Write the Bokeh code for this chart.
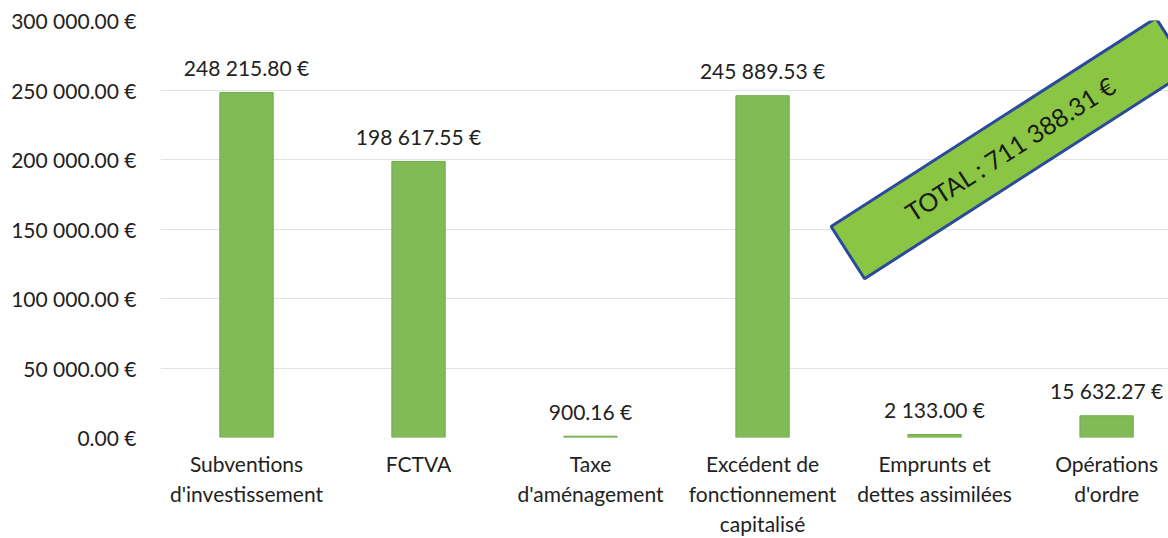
import math
from bokeh.plotting import figure
from bokeh.models import Range1d, FixedTicker, ColumnDataSource
from bokeh.core.properties import value
from bokeh.embed import file_html
from bokeh.resources import INLINE

categories = [
    "Subventions\nd'investissement",
    "FCTVA",
    "Taxe\nd'aménagement",
    "Excédent de\nfonctionnement\ncapitalisé",
    "Emprunts et\ndettes assimilées",
    "Opérations\nd'ordre",
]
amounts = [248215.80, 198617.55, 900.16, 245889.53, 2133.00, 15632.27]
y_ticks = [0, 50000, 100000, 150000, 200000, 250000, 300000]


def euro(v):
    return f"{v:,.2f}".replace(",", " ") + " €"


FONT = "Lato"
FS = "21px"
positions = [i + 0.5 for i in range(len(categories))]
labels = [euro(v) for v in amounts]
total = sum(amounts)

src = ColumnDataSource(dict(x=positions, top=amounts, label=labels))

p = figure(
    width=1168, height=538,
    x_range=Range1d(0, 5.86), y_range=Range1d(0, 300000),
    output_backend="svg", toolbar_location=None,
    min_border_left=160, min_border_right=0, min_border_top=20, min_border_bottom=101,
)
p.outline_line_color = None
p.background_fill_color = "white"
p.border_fill_color = "white"

p.vbar(x="x", top="top", width=0.31, bottom=0, source=src,
       fill_color="#80bb58", line_color="#72ab48", line_width=1)

p.text(x="x", y="top", text="label", source=src, y_offset=-25,
       text_align="center", text_baseline="middle",
       text_font=value(FONT), text_font_size=FS, text_color="#222222")

# axes
p.yaxis.ticker = FixedTicker(ticks=y_ticks)
p.yaxis.major_label_overrides = {t: euro(t) for t in y_ticks}
p.yaxis.axis_line_color = None
p.yaxis.major_tick_line_color = None
p.yaxis.minor_tick_line_color = None
p.yaxis.major_label_standoff = 18
p.yaxis.major_label_text_font = FONT
p.yaxis.major_label_text_font_size = FS
p.yaxis.major_label_text_color = "#222222"

p.xaxis.ticker = FixedTicker(ticks=positions)
p.xaxis.major_label_overrides = {pos: c for pos, c in zip(positions, categories)}
p.xaxis.axis_line_color = None
p.xaxis.major_tick_line_color = None
p.xaxis.minor_tick_line_color = None
p.xaxis.major_label_standoff = 7
p.xaxis.major_label_text_font = FONT
p.xaxis.major_label_text_font_size = FS
p.xaxis.major_label_text_color = "#222222"

p.xgrid.grid_line_color = None
p.ygrid.grid_line_color = "#e2e2e2"
p.ygrid.grid_line_width = 1

# TOTAL banner
ang = math.radians(32.7)
p.rect(x=[4.94], y=[208000], width=[386], height=[62], angle=ang,
       width_units="screen", height_units="screen",
       fill_color="#8ac643", line_color="#2b4a9b", line_width=3)
p.text(x=[4.94], y=[208000], text=["TOTAL : " + euro(total)], angle=ang,
       text_align="center", text_baseline="middle",
       text_font=value(FONT), text_font_size="25px", text_color="#1a1a1a")

open("out.html", "w").write(file_html(p, INLINE))
